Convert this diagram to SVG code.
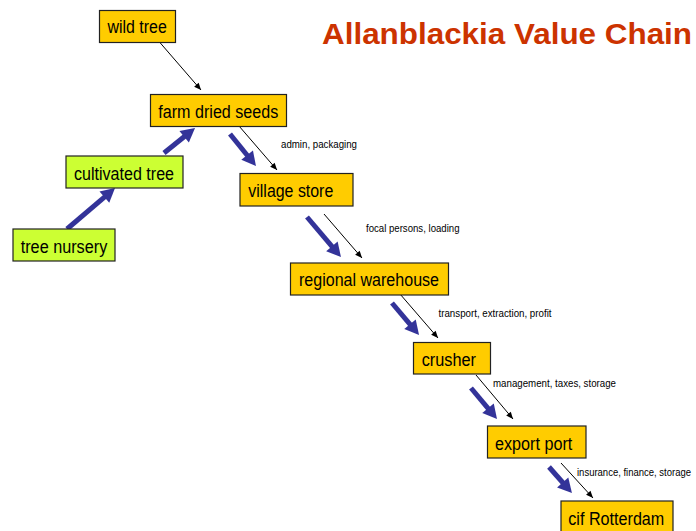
<svg xmlns="http://www.w3.org/2000/svg" width="696" height="531" viewBox="0 0 696 531">
  <style>
    .box { fill: #ffcc00; stroke: #222; stroke-width: 1.2; }
    .green { fill: #ccff33; stroke: #222; stroke-width: 1.2; }
    .lbl { font-family: "Liberation Sans", Arial, sans-serif; font-size: 17.5px; fill: #000; }
    .note { font-family: "Liberation Sans", Arial, sans-serif; font-size: 11px; fill: #000; }
    .title { font-family: "Liberation Sans", Arial, sans-serif; font-size: 29px; font-weight: bold; fill: #cc3300; }
    .flow { stroke: #333399; stroke-width: 5; fill: none; }
    .cost { stroke: #000; stroke-width: 1; fill: none; }
  </style>
  <defs>
    <marker id="bigHead" markerUnits="userSpaceOnUse" markerWidth="14" markerHeight="15" refX="2" refY="7.5" orient="auto" overflow="visible">
      <path d="M0,0 L14,7.5 L0,15 z" fill="#333399"/>
    </marker>
    <marker id="smallHead" markerUnits="userSpaceOnUse" markerWidth="8" markerHeight="6" refX="7" refY="3" orient="auto" overflow="visible">
      <path d="M0,0 L7,3 L0,6 z" fill="#000"/>
    </marker>
  </defs>

  <rect width="696" height="531" fill="#ffffff"/>

  <text class="title" x="322" y="44" textLength="370" lengthAdjust="spacingAndGlyphs">Allanblackia Value Chain</text>

  <!-- connectors -->
  <g id="connectors">
    <!-- material flow (blue) -->
    <line class="flow" x1="67" y1="229" x2="105.9" y2="195.8" marker-end="url(#bigHead)"/>
    <line class="flow" x1="164" y1="153" x2="185.7" y2="135.5" marker-end="url(#bigHead)"/>
    <line class="flow" x1="230" y1="134" x2="248.4" y2="156.7" marker-end="url(#bigHead)"/>
    <line class="flow" x1="307" y1="217" x2="333.2" y2="247.9" marker-end="url(#bigHead)"/>
    <line class="flow" x1="392" y1="303" x2="411.3" y2="325.8" marker-end="url(#bigHead)"/>
    <line class="flow" x1="471" y1="388" x2="489.3" y2="409.8" marker-end="url(#bigHead)"/>
    <line class="flow" x1="549" y1="467" x2="564" y2="484" marker-end="url(#bigHead)"/>

    <!-- cost steps (black) -->
    <line class="cost" x1="156" y1="38" x2="201" y2="90" marker-end="url(#smallHead)"/>
    <line class="cost" x1="239" y1="126" x2="277" y2="170" marker-end="url(#smallHead)"/>
    <line class="cost" x1="324" y1="214" x2="362" y2="258" marker-end="url(#smallHead)"/>
    <line class="cost" x1="400" y1="294" x2="438" y2="338" marker-end="url(#smallHead)"/>
    <line class="cost" x1="476" y1="375" x2="513" y2="419" marker-end="url(#smallHead)"/>
    <line class="cost" x1="561" y1="463" x2="593" y2="498" marker-end="url(#smallHead)"/>

    <text class="note" x="281" y="148" textLength="76" lengthAdjust="spacingAndGlyphs">admin, packaging</text>
    <text class="note" x="366" y="232" textLength="93.5" lengthAdjust="spacingAndGlyphs">focal persons, loading</text>
    <text class="note" x="438.5" y="317" textLength="113" lengthAdjust="spacingAndGlyphs">transport, extraction, profit</text>
    <text class="note" x="493" y="387" textLength="123" lengthAdjust="spacingAndGlyphs">management, taxes, storage</text>
    <text class="note" x="577" y="476" font-size="9.6" textLength="114" lengthAdjust="spacingAndGlyphs">insurance, finance, storage</text>
  </g>

  <!-- nodes -->
  <g id="wild-tree">
    <rect class="box" x="99.5" y="10.5" width="76" height="32"/>
    <text class="lbl" x="107.5" y="32.7" textLength="59.3" lengthAdjust="spacingAndGlyphs">wild tree</text>
  </g>
  <g id="farm-dried-seeds">
    <rect class="box" x="150.5" y="94.5" width="136" height="32"/>
    <text class="lbl" x="158.3" y="118.3" textLength="120" lengthAdjust="spacingAndGlyphs">farm dried seeds</text>
  </g>
  <g id="cultivated-tree">
    <rect class="green" x="66" y="156" width="117" height="32"/>
    <text class="lbl" x="74" y="180" textLength="100" lengthAdjust="spacingAndGlyphs">cultivated tree</text>
  </g>
  <g id="tree-nursery">
    <rect class="green" x="13" y="229" width="102" height="32"/>
    <text class="lbl" x="20.7" y="252.7" textLength="86.6" lengthAdjust="spacingAndGlyphs">tree nursery</text>
  </g>
  <g id="village-store">
    <rect class="box" x="240" y="173.5" width="113" height="32.5"/>
    <text class="lbl" x="248.3" y="196.7" textLength="85" lengthAdjust="spacingAndGlyphs">village store</text>
  </g>
  <g id="regional-warehouse">
    <rect class="box" x="290.5" y="263" width="158" height="32"/>
    <text class="lbl" x="299" y="285.7" textLength="140" lengthAdjust="spacingAndGlyphs">regional warehouse</text>
  </g>
  <g id="crusher">
    <rect class="box" x="413.5" y="342.5" width="77" height="31.5"/>
    <text class="lbl" x="421.7" y="366" textLength="54.3" lengthAdjust="spacingAndGlyphs">crusher</text>
  </g>
  <g id="export-port">
    <rect class="box" x="487.5" y="426" width="98.5" height="32"/>
    <text class="lbl" x="495" y="450" textLength="77.3" lengthAdjust="spacingAndGlyphs">export port</text>
  </g>
  <g id="cif-rotterdam">
    <rect class="box" x="561" y="501" width="112" height="33"/>
    <text class="lbl" x="568.3" y="525" textLength="96" lengthAdjust="spacingAndGlyphs">cif Rotterdam</text>
  </g>
</svg>
